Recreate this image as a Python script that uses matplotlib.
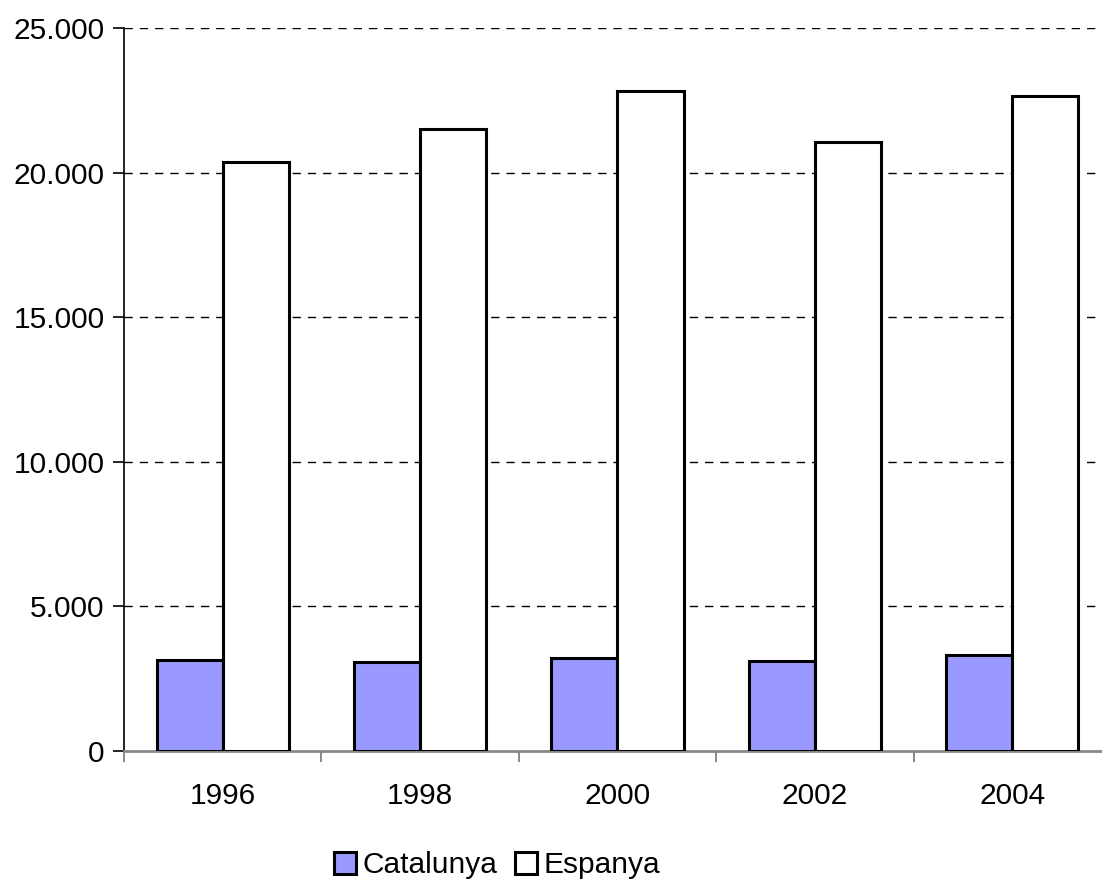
import numpy as np
import matplotlib.pyplot as plt
from matplotlib.ticker import FuncFormatter

years = ["1996", "1998", "2000", "2002", "2004"]
catalunya = [3140, 3080, 3220, 3100, 3335]
espanya = [20380, 21500, 22820, 21050, 22650]

plt.rcParams["font.family"] = ["Liberation Sans", "DejaVu Sans"]

fig = plt.figure(figsize=(11.02, 8.82), dpi=100)
ax = fig.add_axes([0.1125, 0.1485, 0.8956, 0.8197])

x = np.arange(len(years))
w = 0.335
ax.bar(x - w / 2, catalunya, w, color="#9999ff", edgecolor="black",
       linewidth=2.2, label="Catalunya", zorder=3)
ax.bar(x + w / 2, espanya, w, color="white", edgecolor="black",
       linewidth=2.2, label="Espanya", zorder=3)

ax.set_xlim(-0.5, len(years) - 0.5)
ax.set_ylim(0, 25000)
ax.set_yticks(np.arange(0, 25001, 5000))
ax.yaxis.set_major_formatter(
    FuncFormatter(lambda v, p: f"{int(v):,}".replace(",", ".")))
ax.set_xticks(x)
ax.set_xticklabels(years)
ax.set_xticks(np.arange(-0.5, len(years), 1), minor=True)
ax.tick_params(axis="x", which="major", length=0, pad=22, labelsize=21.5)
ax.tick_params(axis="x", which="minor", length=8, width=1.2, color="#777777")
ax.tick_params(axis="y", length=8, width=1.2, labelsize=21.5, pad=6)

for v in range(5000, 25001, 5000):
    ax.axhline(v, color="black", linestyle=(0, (6, 5)), linewidth=1.0,
               zorder=1)

for s in ["top", "right"]:
    ax.spines[s].set_visible(False)
ax.spines["left"].set_linewidth(1.2)
ax.spines["bottom"].set_linewidth(2)
ax.spines["bottom"].set_color("#888888")

fig.legend(loc="center", bbox_to_anchor=(497 / 1102, 1 - 865 / 882),
           ncol=2, frameon=False, fontsize=21.5, handlelength=0.75,
           handleheight=0.75, handletextpad=0.2, columnspacing=0.6)

fig.savefig("out.png", dpi=100)
